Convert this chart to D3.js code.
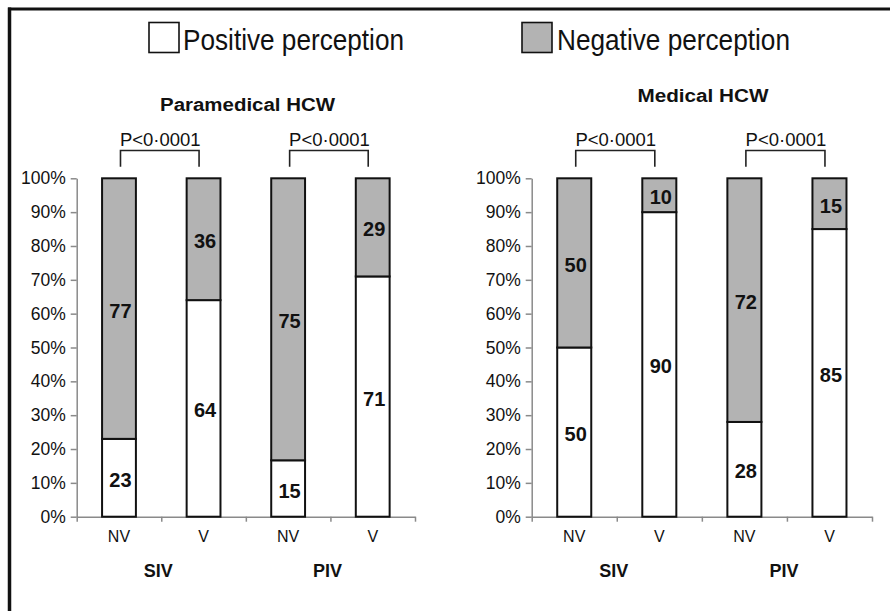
<!DOCTYPE html>
<html>
<head>
<meta charset="utf-8">
<script src="https://cdn.jsdelivr.net/npm/d3@7"></script>
<style>
  html, body { margin: 0; padding: 0; background: #fff; }
  svg { display: block; font-family: Arial, "Liberation Sans", sans-serif; }
</style>
</head>
<body>
<svg id="chart" width="890" height="611"></svg>
<script>
// ---- data ----
const panelTitles = ["Paramedical HCW", "Medical HCW"];
const categories = ["NV", "V", "NV", "V"];
const groups = ["SIV", "PIV"];
const paramedicalPositive = [23, 64, 15, 71];
const paramedicalNegative = [77, 36, 75, 29];
const medicalPositive = [50, 90, 28, 85];
const medicalNegative = [50, 10, 72, 15];
const yTickValues = [0, 0.1, 0.2, 0.3, 0.4, 0.5, 0.6, 0.7, 0.8, 0.9, 1.0];
const legendLabels = ["Positive perception", "Negative perception"];
const pValueLabel = "P<0\u00B70001";

const GREY = "#b3b3b3";
const AXIS = "#8a8a8a";

const svg = d3.select("#chart");

// frame (top and left edges)
svg.append("line").attr("x1", 8).attr("x2", 890).attr("y1", 9).attr("y2", 9)
  .attr("stroke", "#111").attr("stroke-width", 3);
svg.append("line").attr("x1", 9.5).attr("x2", 9.5).attr("y1", 7.5).attr("y2", 611)
  .attr("stroke", "#111").attr("stroke-width", 3.5);

// legend
const legendPos = [{bx: 149, tx: 183, len: 221}, {bx: 522, tx: 557, len: 233}];
legendLabels.forEach((lab, i) => {
  const p = legendPos[i];
  svg.append("rect").attr("x", p.bx).attr("y", 22.5).attr("width", 30).attr("height", 30)
    .attr("fill", i === 0 ? "#fff" : GREY).attr("stroke", "#111").attr("stroke-width", 1.6);
  svg.append("text").attr("x", p.tx).attr("y", 49.5)
    .attr("font-size", 30).attr("fill", "#111")
    .attr("textLength", p.len).attr("lengthAdjust", "spacingAndGlyphs")
    .text(lab);
});

const panels = [
  { title: panelTitles[0], pos: paramedicalPositive, neg: paramedicalNegative,
    x0: 76.7, x1: 415, titleX: 247.5, titleY: 111, titleLen: 175 },
  { title: panelTitles[1], pos: medicalPositive, neg: medicalNegative,
    x0: 531.7, x1: 872, titleX: 703, titleY: 101.7, titleLen: 131 }
];

const yTop = 178.3, yBottom = 516.7;

panels.forEach(P => {
  const g = svg.append("g");
  const rows = categories.map((c, i) => ({ idx: i, cat: c, pos: P.pos[i], neg: P.neg[i] }));
  const stack = d3.stack().keys(["pos", "neg"]).offset(d3.stackOffsetExpand);
  const series = stack(rows);

  const x = d3.scaleBand().domain(d3.range(categories.length)).range([P.x0, P.x1]).padding(0);
  const y = d3.scaleLinear().domain([0, 1]).range([yBottom, yTop]);
  const bw = x.bandwidth() * 0.4;
  const cx = i => x(i) + x.bandwidth() / 2;

  // title
  g.append("text").attr("x", P.titleX).attr("y", P.titleY)
    .attr("text-anchor", "middle").attr("font-size", 17.5).attr("font-weight", "bold")
    .attr("fill", "#111").attr("textLength", P.titleLen).attr("lengthAdjust", "spacingAndGlyphs")
    .text(P.title);

  // y axis
  const ya = g.append("g").attr("transform", `translate(${P.x0},0)`)
    .call(d3.axisLeft(y).tickValues(yTickValues).tickFormat(d3.format(".0%"))
      .tickSize(6).tickSizeOuter(0).tickPadding(5));
  ya.select(".domain").attr("stroke", AXIS).attr("stroke-width", 1.5);
  ya.selectAll(".tick line").attr("stroke", AXIS).attr("stroke-width", 1.5);
  ya.selectAll(".tick text").attr("font-size", 17.5).attr("fill", "#111")
    .attr("font-family", "Arial, 'Liberation Sans', sans-serif");

  // x axis (band boundaries)
  const xb = d3.scaleLinear().domain([0, categories.length]).range([P.x0, P.x1]);
  const xa = g.append("g").attr("transform", `translate(0,${yBottom})`)
    .call(d3.axisBottom(xb).tickValues(d3.range(categories.length + 1)).tickFormat("")
      .tickSize(5).tickSizeOuter(0));
  xa.select(".domain").attr("stroke", AXIS).attr("stroke-width", 1.5);
  xa.selectAll(".tick line").attr("stroke", AXIS).attr("stroke-width", 1.5);

  // bars
  series.forEach(s => {
    g.selectAll(null).data(s).enter().append("rect")
      .attr("x", d => cx(d.data.idx) - bw / 2)
      .attr("y", d => y(d[1]))
      .attr("width", bw)
      .attr("height", d => y(d[0]) - y(d[1]))
      .attr("fill", s.key === "pos" ? "#fff" : GREY)
      .attr("stroke", "#111").attr("stroke-width", 2);
    g.selectAll(null).data(s).enter().append("text")
      .attr("x", d => cx(d.data.idx) + 1.5)
      .attr("y", d => y((d[0] + d[1]) / 2) + 2)
      .attr("dominant-baseline", "central").attr("text-anchor", "middle")
      .attr("font-size", 20).attr("font-weight", "bold").attr("fill", "#111")
      .text(d => d.data[s.key]);
  });

  // category labels
  g.selectAll(null).data(categories).enter().append("text")
    .attr("x", (d, i) => cx(i)).attr("y", 541.7)
    .attr("text-anchor", "middle").attr("font-size", 16).attr("fill", "#111")
    .text(d => d);

  // group labels
  groups.forEach((gr, j) => {
    g.append("text").attr("x", xb(2 * j + 1) - 3).attr("y", 576.7)
      .attr("text-anchor", "middle").attr("font-size", 18).attr("font-weight", "bold")
      .attr("fill", "#111").text(gr);

    // significance bracket
    const lx = cx(2 * j) + 1.5, rx = cx(2 * j + 1) - 4.5;
    g.append("path")
      .attr("d", `M${lx},166.7 V150.5 H${rx} V166.7`)
      .attr("fill", "none").attr("stroke", "#222").attr("stroke-width", 1.6);
    g.append("text").attr("x", (lx + rx) / 2 + 0.5).attr("y", 146)
      .attr("text-anchor", "middle").attr("font-size", 18.5).attr("fill", "#111")
      .text(pValueLabel);
  });
});
</script>
</body>
</html>
